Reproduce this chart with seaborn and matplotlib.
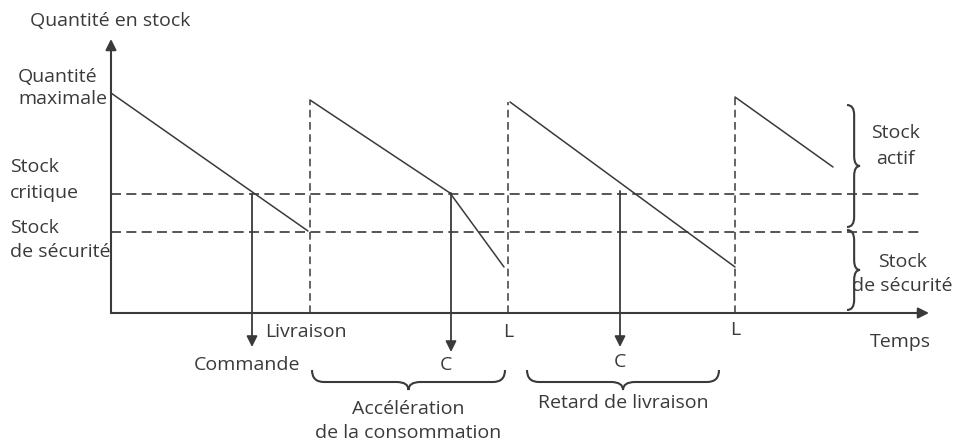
import numpy as np
import pandas as pd
import seaborn as sns
import matplotlib.pyplot as plt
from matplotlib.path import Path
from matplotlib.patches import PathPatch

sns.set_theme(style="white")
plt.rcParams['font.family'] = ['Open Sans', 'DejaVu Sans']

# stock curve (time, quantity), one list per consumption segment
seg_t = [[0, 197], [199, 339], [339, 393], [399, 624], [624, 722]]
seg_q = [[220, 82], [213, 120], [120, 46], [211, 46], [216, 146]]
critical_level = 119
safety_level = 81
delivery_t = [199, 397, 624]
delivery_q = [213, 211, 216]
order_t = [141, 340, 509]
order_q = [119, 120, 122]
order_labels = ["Commande", "C", "C"]
delivery_labels = ["Livraison", "L", "L"]

INK = "#3a3a3a"
FS = 14


def hbrace(ax, x0, x1, y, h, r=12):
  # horizontal brace, tip pointing down
  xm = (x0 + x1) / 2
  ym = y - h * 0.6
  verts = [(x0, y), (x0, ym), (x0 + r, ym),
           (xm - r, ym),
           (xm, ym), (xm, y - h),
           (xm, ym), (xm + r, ym),
           (x1 - r, ym),
           (x1, ym), (x1, y)]
  codes = [Path.MOVETO, Path.CURVE3, Path.CURVE3, Path.LINETO,
           Path.CURVE3, Path.CURVE3, Path.CURVE3, Path.CURVE3,
           Path.LINETO, Path.CURVE3, Path.CURVE3]
  ax.add_patch(PathPatch(Path(verts, codes), fill=False, lw=1.5, ec=INK))


def vbrace(ax, y0, y1, x, w, r=10):
  # vertical brace from y0 (bottom) to y1 (top), tip pointing right
  ym = (y0 + y1) / 2
  xm = x + w * 0.55
  verts = [(x, y0), (xm, y0), (xm, y0 + r),
           (xm, ym - r),
           (xm, ym), (x + w, ym),
           (xm, ym), (xm, ym + r),
           (xm, y1 - r),
           (xm, y1), (x, y1)]
  codes = [Path.MOVETO, Path.CURVE3, Path.CURVE3, Path.LINETO,
           Path.CURVE3, Path.CURVE3, Path.CURVE3, Path.CURVE3,
           Path.LINETO, Path.CURVE3, Path.CURVE3]
  ax.add_patch(PathPatch(Path(verts, codes), fill=False, lw=1.5, ec=INK))


def arrow(ax, start, end, lw=1.3):
  ax.annotate("", xy=end, xytext=start,
              arrowprops=dict(arrowstyle="-|>", color=INK, lw=lw,
                              mutation_scale=16, shrinkA=0, shrinkB=0))


def label(x, y, s, **kw):
  ax.text(x, y, s, fontsize=FS, color=INK, va="center", **kw)


fig = plt.figure(figsize=(9.55, 4.42), dpi=100)
ax = fig.add_axes([0, 0, 1, 1])
ax.set_xlim(-111, 844)
ax.set_ylim(-129, 313)
ax.axis("off")

df = pd.DataFrame({
  "t": [v for s in seg_t for v in s],
  "q": [v for s in seg_q for v in s],
  "seg": [i for i, s in enumerate(seg_t) for _ in s],
})
sns.lineplot(data=df, x="t", y="q", units="seg", estimator=None,
             color=INK, lw=1.1, legend=False, ax=ax)

# reference levels
ax.hlines([critical_level, safety_level], 0, 812, colors=INK, lw=1.2,
          linestyles=[(0, (6, 3.2))])
ax.vlines(delivery_t, 0, delivery_q, colors=INK, lw=1.1,
          linestyles=[(0, (5, 3))])

# axes
arrow(ax, (0, 0), (818, 0), lw=1.5)
arrow(ax, (0, 0), (0, 274), lw=1.5)

# order arrows
tips = [-34, -39, -34]
for t, q, tip in zip(order_t, order_q, tips):
  arrow(ax, (t, q), (t, tip))

# labels
label(-81, 292, "Quantité en stock")
label(-93, 225, "Quantité\nmaximale", linespacing=1.3)
label(-101, 133, "Stock\ncritique", linespacing=1.6)
label(-101, 73, "Stock\nde sécurité", linespacing=1.45)

label(154, -19, delivery_labels[0])
label(delivery_t[1], -19, delivery_labels[1], ha="center")
label(delivery_t[2], -17, delivery_labels[2], ha="center")

label(136, -52, order_labels[0], ha="center")
label(335, -52, order_labels[1], ha="center")
label(order_t[2], -49, order_labels[2], ha="center")

label(789, -29, "Temps", ha="center")

hbrace(ax, 201, 394, -57, 20)
hbrace(ax, 416, 608, -57, 20)
label(297, -108, "Accélération\nde la consommation", ha="center", linespacing=1.4)
label(512, -90, "Retard de livraison", ha="center")

vbrace(ax, 86, 208, 736, 13)
vbrace(ax, 3, 83, 736, 13)
label(784, 167, "Stock\nactif", ha="center", linespacing=1.6)
label(791, 39, "Stock\nde sécurité", ha="center", linespacing=1.4)

fig.savefig("out.png", dpi=100)
